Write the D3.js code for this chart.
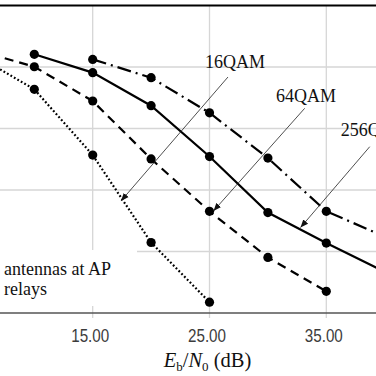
<!DOCTYPE html>
<html>
<head>
<meta charset="utf-8">
<script src="https://cdn.jsdelivr.net/npm/d3@7"></script>
<style>
  html, body { margin: 0; padding: 0; background: #fff; }
  svg { display: block; }
</style>
</head>
<body>
<div id="chart"></div>
<script>
// ===== data (Eb/N0 in dB, BER) =====
const ebn0Grid = [5, 15, 25, 35, 45];
const ebn0Labels = [15, 25, 35];
const berTicks = [1e-5, 1e-4, 1e-3, 1e-2, 1e-1, 1];

const dottedX = [5, 10, 15, 20, 25];
const dottedBer = [0.155, 0.0434, 0.0037, 1.4e-4, 1.5e-5];

const dashedX = [5, 10, 15, 20, 25, 30, 35];
const dashedBer = [0.189, 0.101, 0.028, 0.0032, 4.5e-4, 8.0e-5, 2.25e-5];

const solidX = [10, 15, 20, 25, 30, 35, 40];
const solidBer = [0.161, 0.081, 0.0235, 0.0035, 4.3e-4, 1.37e-4, 4.7e-5];

const dashDotX = [15, 20, 25, 30, 35, 40];
const dashDotBer = [0.133, 0.067, 0.018, 0.0033, 4.5e-4, 1.75e-4];

// annotations: label position and arrow (from -> to), in dB / BER
const annLabels = ['16QAM', '64QAM', '256QAM'];
const annTextAt = [[24.62, 0.0953], [30.69, 0.0273], [36.23, 0.00755]];
const annFrom = [[26.58, 0.0687], [33.15, 0.0213], [38.72, 0.00506]];
const annTo = [[17.42, 6.62e-4], [25.34, 4.56e-4], [32.79, 2.45e-4]];

const legendLines = ['antennas at AP', 'relays'];

// ===== layout =====
const width = 376, height = 376;
const svg = d3.select('#chart').append('svg')
  .attr('width', width)
  .attr('height', height);

const x = d3.scaleLinear().domain([15, 35]).range([92.7, 326.3]);
const y = d3.scaleLog().domain([1e-5, 1]).range([313, 5.5]);

const serif = '"Liberation Serif", "DejaVu Serif", serif';
const sans = '"Liberation Sans", Arial, sans-serif';

// arrow marker
svg.append('defs').append('marker')
  .attr('id', 'arrow')
  .attr('viewBox', '0 0 10 10')
  .attr('refX', 10).attr('refY', 5)
  .attr('markerWidth', 8).attr('markerHeight', 8)
  .attr('markerUnits', 'userSpaceOnUse')
  .attr('orient', 'auto')
  .append('path')
  .attr('d', 'M0,1 L10,5 L0,9 Z')
  .attr('fill', '#111');

// ===== grid =====
const grid = svg.append('g');
grid.selectAll('line.v')
  .data(ebn0Grid)
  .enter().append('line')
  .attr('x1', d => x(d)).attr('x2', d => x(d))
  .attr('y1', y(1)).attr('y2', y(1e-5) + 5)
  .attr('stroke', '#d6d6d6')
  .attr('stroke-width', 1.3);
grid.selectAll('line.h')
  .data(berTicks.slice(1, -1))
  .enter().append('line')
  .attr('x1', 0).attr('x2', width)
  .attr('y1', d => y(d)).attr('y2', d => y(d))
  .attr('stroke', '#d6d6d6')
  .attr('stroke-width', 1.3);

// ===== curves =====
const line = d3.line().x(d => x(d[0])).y(d => y(d[1]));
const series = [
  { xs: dottedX, ys: dottedBer, dash: '1.8,2.2' },
  { xs: dashedX, ys: dashedBer, dash: '9,6' },
  { xs: solidX, ys: solidBer, dash: null },
  { xs: dashDotX, ys: dashDotBer, dash: '14,5,2,5' }
];

series.forEach(s => {
  const pts = s.xs.map((v, i) => [v, s.ys[i]]);
  svg.append('path')
    .datum(pts)
    .attr('d', line)
    .attr('fill', 'none')
    .attr('stroke', '#000')
    .attr('stroke-width', 2.2)
    .attr('stroke-dasharray', s.dash);
  svg.append('g').selectAll('circle')
    .data(pts)
    .enter().append('circle')
    .attr('cx', d => x(d[0]))
    .attr('cy', d => y(d[1]))
    .attr('r', 4.6)
    .attr('fill', '#000');
});

// ===== legend box (cropped) =====
svg.append('rect')
  .attr('x', -10).attr('y', 250)
  .attr('width', 147).attr('height', 56)
  .attr('fill', '#fff');
svg.append('g').selectAll('text')
  .data(legendLines)
  .enter().append('text')
  .attr('x', 4)
  .attr('y', (d, i) => 275 + i * 20)
  .attr('font-family', serif)
  .attr('font-size', 18)
  .attr('fill', '#111')
  .text(d => d);

// ===== annotations =====
annLabels.forEach((lab, i) => {
  svg.append('line')
    .attr('x1', x(annFrom[i][0])).attr('y1', y(annFrom[i][1]))
    .attr('x2', x(annTo[i][0])).attr('y2', y(annTo[i][1]))
    .attr('stroke', '#222')
    .attr('stroke-width', 0.8)
    .attr('marker-end', 'url(#arrow)');
  svg.append('text')
    .attr('x', x(annTextAt[i][0]))
    .attr('y', y(annTextAt[i][1]))
    .attr('font-family', serif)
    .attr('font-size', 18)
    .attr('fill', '#111')
    .text(lab);
});

// ===== frame / axis =====
svg.append('line')
  .attr('x1', 0).attr('x2', width)
  .attr('y1', y(1)).attr('y2', y(1))
  .attr('stroke', '#000')
  .attr('stroke-width', 2.2);
svg.append('line')
  .attr('x1', 0).attr('x2', width)
  .attr('y1', y(1e-5)).attr('y2', y(1e-5))
  .attr('stroke', '#555')
  .attr('stroke-width', 1.6);

// tick labels: condensed-looking sans, squeezed to width
svg.append('g').selectAll('text')
  .data(ebn0Labels)
  .enter().append('text')
  .attr('x', d => x(d) - 2.5)
  .attr('y', 342)
  .attr('text-anchor', 'middle')
  .attr('font-family', sans)
  .attr('font-size', 18)
  .attr('textLength', 38)
  .attr('lengthAdjust', 'spacingAndGlyphs')
  .attr('fill', '#3c3c3c')
  .text(d => d3.format('.2f')(d));

const xl = svg.append('text')
  .attr('x', x(25) - 2)
  .attr('y', 367)
  .attr('text-anchor', 'middle')
  .attr('font-family', serif)
  .attr('font-size', 20.5)
  .attr('fill', '#111');
xl.append('tspan').attr('font-style', 'italic').text('E');
xl.append('tspan').attr('font-size', 13).attr('dy', 4).text('b');
xl.append('tspan').attr('dy', -4).text('/');
xl.append('tspan').attr('font-style', 'italic').text('N');
xl.append('tspan').attr('font-size', 13).attr('dy', 4).text('0');
xl.append('tspan').attr('dy', -4).text(' (dB)');
</script>
</body>
</html>
